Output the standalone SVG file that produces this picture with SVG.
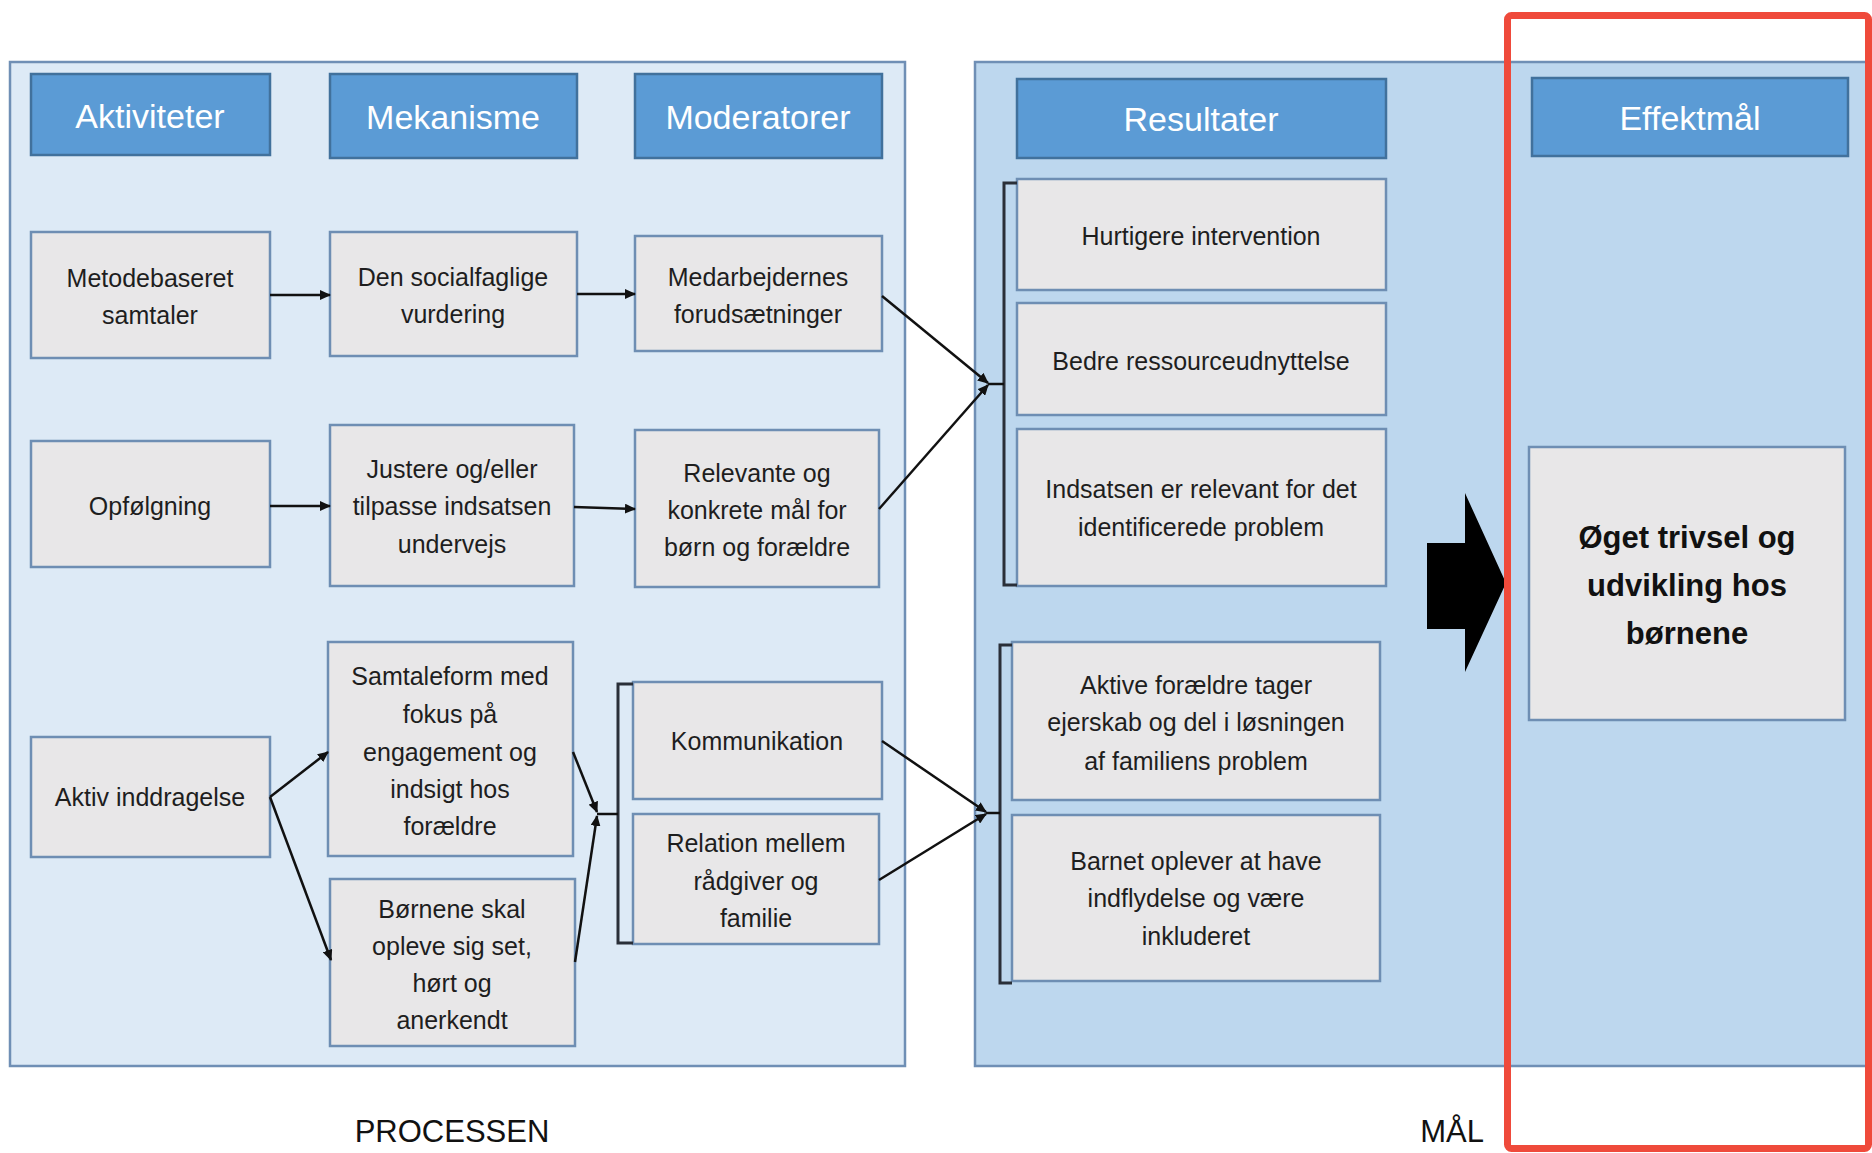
<svg xmlns="http://www.w3.org/2000/svg" width="1872" height="1153" viewBox="0 0 1872 1153">
<defs>
<marker id="ah" markerUnits="userSpaceOnUse" markerWidth="11" markerHeight="10" refX="10" refY="5" orient="auto">
<path d="M0,0 L11,5 L0,10 z" fill="#111"/>
</marker>
<style>
.panelL{fill:#ddeaf6;stroke:#6f8fb5;stroke-width:2.5}
.panelR{fill:#bdd7ee;stroke:#6f8fb5;stroke-width:2.5}
.hdr{fill:#5b9bd5;stroke:#41719c;stroke-width:2.5}
.hdrt{font-family:"Liberation Sans",Arial,sans-serif;font-size:34px;fill:#fff;text-anchor:middle;dominant-baseline:central}
.box{fill:#e8e7e8;stroke:#6e8eb3;stroke-width:2.5}
.t{font-family:"Liberation Sans",Arial,sans-serif;font-size:25px;fill:#1e1e1e;text-anchor:middle;dominant-baseline:central}
.tb{font-family:"Liberation Sans",Arial,sans-serif;font-size:31px;font-weight:bold;fill:#111;text-anchor:middle;dominant-baseline:central}
.lbl{font-family:"Liberation Sans",Arial,sans-serif;font-size:31px;fill:#111;text-anchor:middle;dominant-baseline:central}
.c{stroke:#111;stroke-width:2.5;fill:none}
.ca{stroke:#111;stroke-width:2.5;fill:none;marker-end:url(#ah)}
.br{stroke:#2a2f38;stroke-width:3;fill:none}
</style>
</defs>
<rect width="1872" height="1153" fill="#ffffff"/>
<g id="panels">
<rect class="panelL" x="10" y="62" width="895" height="1004"/>
<rect class="panelR" x="975" y="62" width="900" height="1004"/>
</g>
<g id="headers">
<g id="h-aktiviteter"><rect class="hdr" x="31" y="74" width="239" height="81"/><text class="hdrt" x="150" y="116">Aktiviteter</text></g>
<g id="h-mekanisme"><rect class="hdr" x="330" y="74" width="247" height="84"/><text class="hdrt" x="453" y="117">Mekanisme</text></g>
<g id="h-moderatorer"><rect class="hdr" x="635" y="74" width="247" height="84"/><text class="hdrt" x="758" y="117">Moderatorer</text></g>
<g id="h-resultater"><rect class="hdr" x="1017" y="79" width="369" height="79"/><text class="hdrt" x="1201" y="119">Resultater</text></g>
<g id="h-effektmal"><rect class="hdr" x="1532" y="78" width="316" height="78"/><text class="hdrt" x="1690" y="118">Effektmål</text></g>
</g>
<g id="n-metodebaseret"><rect class="box" x="31" y="232" width="239" height="126"/><text class="t" x="150" y="278">Metodebaseret</text><text class="t" x="150" y="315">samtaler</text></g>
<g id="n-socialfaglige"><rect class="box" x="330" y="232" width="247" height="124"/><text class="t" x="453" y="277">Den socialfaglige</text><text class="t" x="453" y="314">vurdering</text></g>
<g id="n-medarbejdernes"><rect class="box" x="635" y="236" width="247" height="115"/><text class="t" x="758" y="277">Medarbejdernes</text><text class="t" x="758" y="314">forudsætninger</text></g>
<g id="n-opfolgning"><rect class="box" x="31" y="441" width="239" height="126"/><text class="t" x="150" y="506">Opfølgning</text></g>
<g id="n-justere"><rect class="box" x="330" y="425" width="244" height="161"/><text class="t" x="452" y="469">Justere og/eller</text><text class="t" x="452" y="506">tilpasse indsatsen</text><text class="t" x="452" y="544">undervejs</text></g>
<g id="n-relevante"><rect class="box" x="635" y="430" width="244" height="157"/><text class="t" x="757" y="473">Relevante og</text><text class="t" x="757" y="510">konkrete mål for</text><text class="t" x="757" y="547">børn og forældre</text></g>
<g id="n-aktiv"><rect class="box" x="31" y="737" width="239" height="120"/><text class="t" x="150" y="797">Aktiv inddragelse</text></g>
<g id="n-samtaleform"><rect class="box" x="328" y="642" width="245" height="214"/><text class="t" x="450" y="676">Samtaleform med</text><text class="t" x="450" y="714">fokus på</text><text class="t" x="450" y="752">engagement og</text><text class="t" x="450" y="789">indsigt hos</text><text class="t" x="450" y="826">forældre</text></g>
<g id="n-bornene"><rect class="box" x="330" y="879" width="245" height="167"/><text class="t" x="452" y="909">Børnene skal</text><text class="t" x="452" y="946">opleve sig set,</text><text class="t" x="452" y="983">hørt og</text><text class="t" x="452" y="1020">anerkendt</text></g>
<g id="n-kommunikation"><rect class="box" x="633" y="682" width="249" height="117"/><text class="t" x="757" y="741">Kommunikation</text></g>
<g id="n-relation"><rect class="box" x="633" y="814" width="246" height="130"/><text class="t" x="756" y="843">Relation mellem</text><text class="t" x="756" y="881">rådgiver og</text><text class="t" x="756" y="918">familie</text></g>
<g id="n-hurtigere"><rect class="box" x="1017" y="179" width="369" height="111"/><text class="t" x="1201" y="236">Hurtigere intervention</text></g>
<g id="n-bedre"><rect class="box" x="1017" y="303" width="369" height="112"/><text class="t" x="1201" y="361">Bedre ressourceudnyttelse</text></g>
<g id="n-indsatsen"><rect class="box" x="1017" y="429" width="369" height="157"/><text class="t" x="1201" y="489">Indsatsen er relevant for det</text><text class="t" x="1201" y="527">identificerede problem</text></g>
<g id="n-aktive"><rect class="box" x="1012" y="642" width="368" height="158"/><text class="t" x="1196" y="685">Aktive forældre tager</text><text class="t" x="1196" y="722">ejerskab og del i løsningen</text><text class="t" x="1196" y="761">af familiens problem</text></g>
<g id="n-barnet"><rect class="box" x="1012" y="815" width="368" height="166"/><text class="t" x="1196" y="861">Barnet oplever at have</text><text class="t" x="1196" y="898">indflydelse og være</text><text class="t" x="1196" y="936">inkluderet</text></g>
<g id="n-oget"><rect class="box" x="1529" y="447" width="316" height="273"/><text class="tb" x="1687" y="537">Øget trivsel og</text><text class="tb" x="1687" y="585">udvikling hos</text><text class="tb" x="1687" y="633">børnene</text></g>
<g id="brackets">
<path class="br" d="M633,684 H618 V943 H633"/>
<path class="br" d="M1017,183 H1004 V585 H1017"/>
<path class="br" d="M1012,645 H1000 V983 H1012"/>
</g>
<g id="connectors">
<line class="ca" x1="270" y1="295" x2="330" y2="295"/>
<line class="ca" x1="577" y1="294" x2="635" y2="294"/>
<line class="ca" x1="270" y1="506" x2="330" y2="506"/>
<line class="ca" x1="574" y1="507" x2="635" y2="509"/>
<line class="ca" x1="270" y1="797" x2="328" y2="752"/>
<line class="ca" x1="270" y1="797" x2="331" y2="960"/>
<line class="ca" x1="573" y1="752" x2="597" y2="812"/>
<line class="ca" x1="575" y1="962" x2="597" y2="816"/>
<line class="c" x1="597" y1="814" x2="618" y2="814"/>
<line class="ca" x1="882" y1="296" x2="988" y2="383"/>
<line class="ca" x1="879" y1="509" x2="988" y2="385"/>
<line class="c" x1="988" y1="384" x2="1004" y2="384"/>
<line class="ca" x1="882" y1="741" x2="986" y2="812"/>
<line class="ca" x1="879" y1="880" x2="986" y2="814"/>
<line class="c" x1="986" y1="813" x2="1000" y2="813"/>
</g>
<g id="big-arrow">
<polygon points="1427,543 1465,543 1465,493 1506,583 1465,672 1465,629 1427,629" fill="#000"/>
</g>
<g id="labels">
<text class="lbl" x="452" y="1131">PROCESSEN</text>
<text class="lbl" x="1452" y="1131">MÅL</text>
</g>
<rect id="highlight" x="1507.5" y="15.5" width="361" height="1133" rx="4" fill="none" stroke="#ef4a3b" stroke-width="7"/>
</svg>
